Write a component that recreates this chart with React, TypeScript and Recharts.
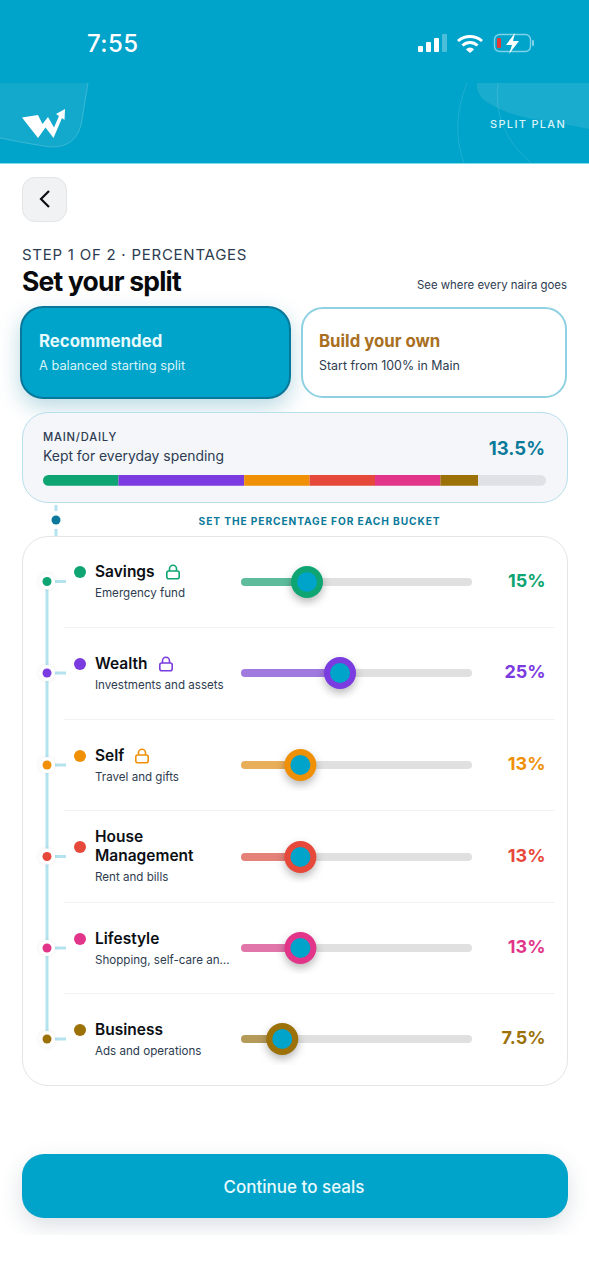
import React from "react";
import { BarChart, Bar, XAxis, YAxis, ReferenceDot } from "recharts";

const bucketNames = ["Savings", "Wealth", "Self", "House Management", "Lifestyle", "Business"];
const bucketNotes = ["Emergency fund", "Investments and assets", "Travel and gifts", "Rent and bills", "Shopping, self-care an…", "Ads and operations"];
const bucketValues = [15, 25, 13, 13, 13, 7.5];
const bucketLabels = ["15%", "25%", "13%", "13%", "13%", "7.5%"];
const bucketLocked = [true, true, true, false, false, false];
const bucketColors = ["#0ea572", "#7a3be0", "#ef9007", "#e6483a", "#e2358a", "#9b7108"];
const mainValue = 13.5;
const mainColor = "#dfe1e6";
const sliderDomain: [number, number] = [-5, 65];

const TEAL = "#00a3c9";
const DEEP = "#0b7a9a";
const INK = "#2d3c50";
const FONT = "Inter, 'Noto Sans', sans-serif";
const ROW_Y = [581.5, 673, 765, 856.5, 948, 1039];
const DIVIDER_Y = [627, 719, 810, 902, 993];

const splitRow: Record<string, number | string> = { name: "split", Main: mainValue };
bucketNames.forEach((n, i) => { splitRow[n] = bucketValues[i]; });

function T({ x, y, right, center, size, weight = 400, color = INK, ls = 0, children }: any) {
  const style: React.CSSProperties = {
    position: "absolute", top: y, fontSize: size, fontWeight: weight, color, letterSpacing: ls,
    fontFamily: FONT, whiteSpace: "nowrap", lineHeight: 1,
    transform: center != null ? "translate(-50%,-50%)" : "translateY(-50%)",
  };
  if (center != null) style.left = center;
  else if (right != null) style.right = 589 - right;
  else style.left = x;
  return <div style={style}>{children}</div>;
}

function Box({ x, y, w, h, r, bg = "#fff", border, shadow }: any) {
  return <div style={{ position: "absolute", left: x, top: y, width: w, height: h, borderRadius: r, background: bg, border, boxShadow: shadow, boxSizing: "border-box" }} />;
}

function Lock({ color }: { color: string }) {
  return (
    <svg width="16" height="16" viewBox="0 0 16 16" style={{ marginLeft: 10, flex: "none" }}>
      <path d="M4.5 7V4.8a3.5 3.5 0 0 1 7 0V7" fill="none" stroke={color} strokeWidth="1.6" />
      <rect x="1.8" y="7" width="12.4" height="7.8" rx="2" fill="none" stroke={color} strokeWidth="1.6" />
    </svg>
  );
}

function Slider({ value, color, top }: { value: number; color: string; top: number }) {
  const data = [{ name: "v", track: sliderDomain, filled: [sliderDomain[0], value] }];
  return (
    <div style={{ position: "absolute", left: 241, top: top - 26, width: 231, height: 52 }}>
      <BarChart width={231} height={52} data={data} layout="vertical" barSize={8} barGap={-8} margin={{ top: 0, right: 0, bottom: 0, left: 0 }} style={{ overflow: "visible" }}>
        <XAxis type="number" domain={sliderDomain} hide />
        <YAxis type="category" dataKey="name" hide />
        <Bar dataKey="track" fill="#e0e0e0" radius={4} isAnimationActive={false} />
        <Bar dataKey="filled" fill={color} fillOpacity={0.62} radius={4} isAnimationActive={false} />
        <ReferenceDot
          x={value}
          y="v"
          ifOverflow="visible"
          shape={(p: any) => (
            <g style={{ filter: "drop-shadow(0 4px 4px rgba(0,0,0,0.28))" }}>
              <circle cx={p.cx} cy={p.cy} r={16} fill={color} />
              <circle cx={p.cx} cy={p.cy} r={10} fill={TEAL} />
            </g>
          )}
        />
      </BarChart>
    </div>
  );
}

function SplitBar() {
  return (
    <div style={{ position: "absolute", left: 43, top: 474, width: 503, height: 12 }}>
      <BarChart width={503} height={12} data={[splitRow]} layout="vertical" barSize={12} margin={{ top: 0, right: 0, bottom: 0, left: 0 }}>
        <XAxis type="number" domain={[0, 100]} hide />
        <YAxis type="category" dataKey="name" hide />
        {bucketNames.map((n, i) => (
          <Bar key={n} dataKey={n} stackId="s" fill={bucketColors[i]} radius={i === 0 ? [6, 0, 0, 6] : 0} isAnimationActive={false} />
        ))}
        <Bar dataKey="Main" stackId="s" fill={mainColor} radius={[0, 6, 6, 0]} isAnimationActive={false} />
      </BarChart>
    </div>
  );
}

function Header() {
  return (
    <div style={{ position: "absolute", left: 0, top: 0, width: 589, height: 164, background: TEAL, overflow: "hidden" }}>
      <svg width="589" height="164" style={{ position: "absolute", left: 0, top: 0 }}>
        <path d="M0 83H88L82 120Q78 147 52 147Q40 146 0 138Z" fill="#ffffff" fillOpacity="0.07" />
        <path d="M88 83L82 120Q78 147 52 147Q40 146 0 138" fill="none" stroke="#ffffff" strokeOpacity="0.2" />
        <path d="M477 83Q476 97 490 104Q510 116 540 120Q570 125 589 129V83Z" fill="#ffffff" fillOpacity="0.1" />
        <path d="M467 83Q450 125 464 163" fill="none" stroke="#ffffff" strokeOpacity="0.12" />
        <path d="M498 83Q492 130 531 163" fill="none" stroke="#ffffff" strokeOpacity="0.12" />
        <polygon fill="#fff" points="22,117.5 38,115 42.5,124 48,117 54,127.5 59,116 56,114 65,109 64.5,120 62,118 53.5,138 45.5,127.5 38,138" />
        {/* status bar */}
        <rect x="418" y="46" width="5" height="6" rx="1" fill="#fff" />
        <rect x="426" y="42" width="5" height="10" rx="1" fill="#fff" />
        <rect x="434" y="38" width="5" height="14" rx="1" fill="#fff" />
        <rect x="442" y="34" width="5" height="18" rx="1" fill="#fff" fillOpacity="0.3" />
        <path d="M458 41a18 18 0 0 1 24 0" fill="none" stroke="#fff" strokeWidth="3" />
        <path d="M462.5 45.5a11 11 0 0 1 15 0" fill="none" stroke="#fff" strokeWidth="3" />
        <path d="M466 49.5a5 5 0 0 1 8 0L470 53Z" fill="#fff" />
        <rect x="494.5" y="34.5" width="36" height="17" rx="5" fill="none" stroke="#7fd2e8" strokeWidth="1.4" />
        <rect x="532" y="40" width="2" height="6" rx="1" fill="#7fd2e8" />
        <rect x="497" y="38" width="4" height="10" rx="1" fill="#e53935" />
        <path d="M515 33L506 45H512L509 54L519 41H513Z" fill="#fff" />
      </svg>
      <div style={{ position: "absolute", left: 0, top: 163, width: 589, height: 1, background: "#7ddcf0" }} />
      <T x={87} y={44} size={24} weight={500} color="#fff" ls={0.4}>7:55</T>
      <T right={566} y={124} size={11} weight={500} color="#d8f3f9" ls={1.3}>SPLIT PLAN</T>
    </div>
  );
}

function Timeline() {
  return (
    <svg width="589" height="1280" style={{ position: "absolute", left: 0, top: 0, pointerEvents: "none" }}>
      <line x1="56" y1="505" x2="56" y2="536" stroke="#b3e3ef" strokeWidth="3" />
      <circle cx="56" cy="520" r="9" fill="#fff" />
      <circle cx="56" cy="520" r="4.5" fill={DEEP} />
      <line x1="47" y1={ROW_Y[0]} x2="47" y2={ROW_Y[5]} stroke="#b3e3ef" strokeWidth="3" />
      {ROW_Y.map((y, i) => (
        <g key={i}>
          <line x1="55" y1={y} x2="66" y2={y} stroke="#b3e3ef" strokeWidth="3" />
          <circle cx="47" cy={y} r="8" fill="#fff" style={{ filter: "drop-shadow(0 0 2px rgba(0,0,0,0.08))" }} />
          <circle cx="47" cy={y} r="4.5" fill={bucketColors[i]} />
        </g>
      ))}
    </svg>
  );
}

function Row({ i }: { i: number }) {
  const y = ROW_Y[i];
  const name = bucketNames[i];
  const twoLine = name === "House Management";
  const color = bucketColors[i];
  return (
    <>
      <div style={{ position: "absolute", left: 74, top: y - 15.5, width: 12, height: 12, borderRadius: 6, background: color }} />
      {twoLine ? (
        <>
          <T x={95} y={y - 19.5} size={15.5} weight={600} color="#0b0f14">House</T>
          <T x={95} y={y - 0.5} size={15.5} weight={600} color="#0b0f14">Management</T>
          <T x={95} y={y + 21.5} size={11.6} color={INK}>{bucketNotes[i]}</T>
        </>
      ) : (
        <>
          <div style={{ position: "absolute", left: 95, top: y - 9.5, transform: "translateY(-50%)", display: "flex", alignItems: "center", fontFamily: FONT, fontSize: 15.5, fontWeight: 600, color: "#0b0f14", lineHeight: 1, whiteSpace: "nowrap" }}>
            {name}
            {bucketLocked[i] && <Lock color={color} />}
          </div>
          <T x={95} y={y + 12.5} size={11.6} color={INK}>{bucketNotes[i]}</T>
        </>
      )}
      <Slider value={bucketValues[i]} color={color} top={y} />
      <T right={545.5} y={y - 1} size={18} weight={700} color={color}>{bucketLabels[i]}</T>
    </>
  );
}

export default function App() {
  return (
    <div style={{ position: "absolute", left: 0, top: 0, width: 589, height: 1280, background: "#fff", overflow: "hidden", fontFamily: FONT }}>
      <Header />
      <Box x={21.5} y={177} w={45} h={45} r={13} bg="#f1f2f3" border="1px solid #e3e4e6" />
      <svg width="14" height="20" style={{ position: "absolute", left: 37, top: 189 }}>
        <path d="M12 2L4 10L12 18" fill="none" stroke="#0b0f14" strokeWidth="2.2" />
      </svg>
      <T x={22} y={254} size={15} ls={0.75} color={INK}>STEP 1 OF 2 · PERCENTAGES</T>
      <T x={22} y={280.5} size={26.5} weight={700} color="#07090c" ls={-0.8}>Set your split</T>
      <T right={567} y={285.5} size={11.4} color={INK}>See where every naira goes</T>

      <Box x={19.5} y={306} w={271.5} h={93} r={23} bg={TEAL} border="2px solid #08789a" shadow="0 8px 22px rgba(0,120,150,0.28)" />
      <T x={39} y={341} size={16.8} weight={700} color="#e6fafd">Recommended</T>
      <T x={39} y={365.5} size={12.8} color="#d8f3f9">A balanced starting split</T>

      <Box x={300.5} y={307} w={266.5} h={91} r={22} bg="#fff" border="2.5px solid #8fd1e2" />
      <T x={319} y={341} size={16.8} weight={700} color="#a86f22">Build your own</T>
      <T x={319} y={365.5} size={12.4} color={INK}>Start from 100% in Main</T>

      <Box x={22} y={412} w={545.5} h={91} r={26} bg="#f4f6fa" border="1.5px solid #b8dfeb" />
      <T x={43} y={437.5} size={11.2} weight={500} ls={0.8} color={INK}>MAIN/DAILY</T>
      <T x={43} y={457} size={13.9} color={INK}>Kept for everyday spending</T>
      <T right={545} y={448} size={18.5} weight={700} color={DEEP}>{mainValue}%</T>
      <SplitBar />

      <T center={319.5} y={521} size={10.2} weight={700} ls={0.9} color={DEEP}>SET THE PERCENTAGE FOR EACH BUCKET</T>

      <Box x={22} y={535.5} w={545.5} h={550} r={26} bg="#fff" border="1.5px solid #e3e5e8" />
      {DIVIDER_Y.map((y) => (
        <div key={y} style={{ position: "absolute", left: 64, top: y, width: 491, height: 1, background: "#f1f2f4" }} />
      ))}
      <Timeline />
      {bucketNames.map((_, i) => <Row key={i} i={i} />)}

      <div style={{ position: "absolute", left: 0, top: 1110, width: 589, height: 125, overflow: "hidden" }}>
        <Box x={22} y={44} w={545.5} h={64} r={22} bg={TEAL} shadow="0 8px 22px rgba(30,60,80,0.16)" />
      </div>
      <T center={294} y={1186.5} size={17} weight={500} color="#e8fafd">Continue to seals</T>
    </div>
  );
}
